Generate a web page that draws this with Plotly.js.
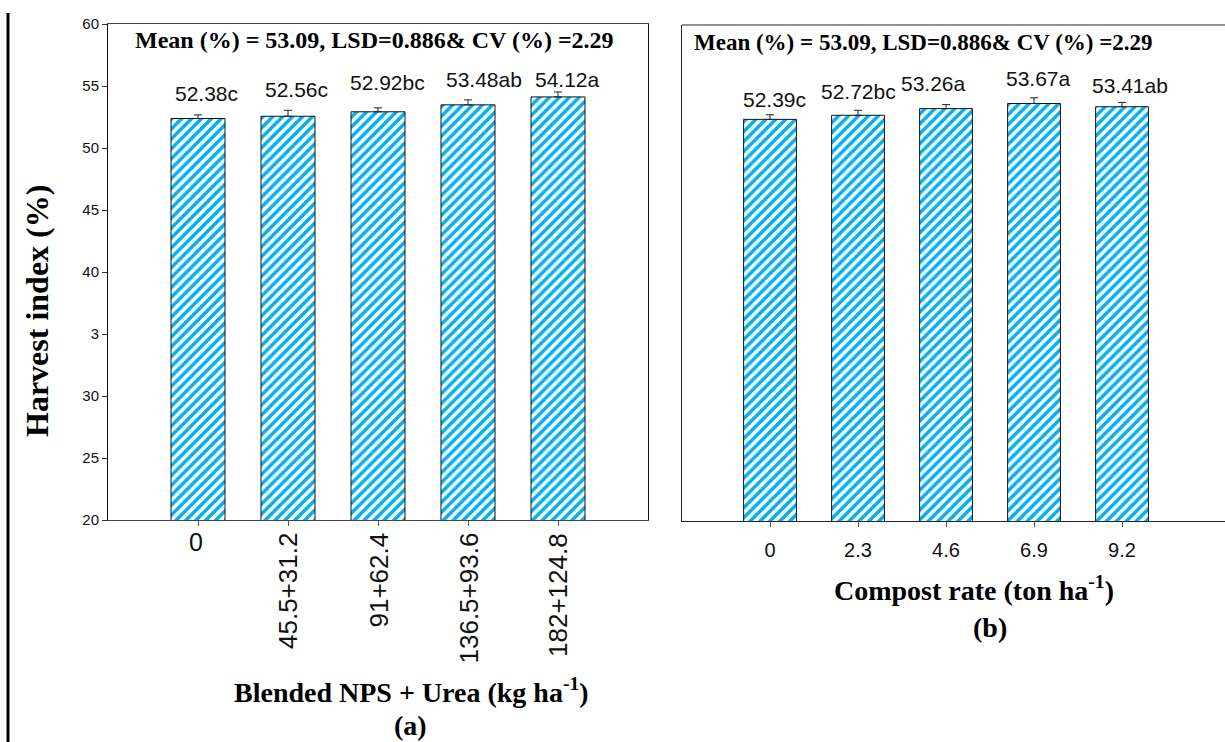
<!DOCTYPE html>
<html><head><meta charset="utf-8">
<script src="https://cdn.plot.ly/plotly-3.0.1.min.js"></script>
<style>html,body{margin:0;padding:0;background:#fff}#chart{width:1225px;height:742px}</style>
</head><body><div id="chart"></div>
<script>
// ---- data ----
const npsLabels = ['0', '45.5+31.2', '91+62.4', '136.5+93.6', '182+124.8'];
const npsHI = [52.38, 52.56, 52.92, 53.48, 54.12];
const npsErr = [0.29, 0.48, 0.32, 0.40, 0.40];
const npsLetters = ['c', 'c', 'bc', 'ab', 'a'];

const compostLabels = ['0', '2.3', '4.6', '6.9', '9.2'];
const compostHI = [52.39, 52.72, 53.26, 53.67, 53.41];
const compostErr = [0.37, 0.40, 0.32, 0.46, 0.35];
const compostLetters = ['c', 'bc', 'a', 'a', 'ab'];

const yTickVals = [20, 25, 30, 35, 40, 45, 50, 55, 60];
const yTickText = ['20', '25', '30', '3', '40', '45', '50', '55', '60'];
const statsText = 'Mean (%) = 53.09, LSD=0.886& CV (%) =2.29';

// ---- layout helpers ----
const W = 1225, H = 742;
const px = x => x / W;
const py = y => 1 - y / H;
const BLUE = '#00b0f0';
const SANS = 'Liberation Sans, Arial, sans-serif';
const SERIF = 'Liberation Serif, Times New Roman, serif';

// label placement (pixels) for the value/letter labels
const npsLabelLift = [24.5, 26.3, 29.3, 25.8, 17.9];
const npsLabelShift = [8, 8, 9, 16, 9];
const compLabelLift = [19.4, 23.3, 24.6, 24.5, 21.7];
const compLabelShift = [4, 0, -13, 4, 8];

function barTrace(x, y, err, xa, ya) {
  return {
    type: 'bar', x: x, y: y, xaxis: xa, yaxis: ya, width: 0.6,
    marker: {
      color: BLUE,
      line: {color: '#111', width: 1},
      pattern: {shape: '/', fgcolor: BLUE, bgcolor: '#ffffff', size: 7, solidity: 0.5, fillmode: 'replace'}
    },
    error_y: {type: 'data', symmetric: false, array: err, arrayminus: err.map(() => 0),
              color: '#222', thickness: 1, width: 4},
    showlegend: false, hoverinfo: 'skip'
  };
}

const data = [
  barTrace(npsLabels, npsHI, npsErr, 'x', 'y'),
  barTrace(compostLabels, compostHI, compostErr, 'x2', 'y2')
];

const annotations = [];
npsLabels.forEach((c, i) => {
  annotations.push({xref: 'x', yref: 'y', x: i, y: npsHI[i], yanchor: 'middle',
    yshift: npsLabelLift[i], xshift: npsLabelShift[i],
    text: npsHI[i].toFixed(2) + npsLetters[i], showarrow: false,
    font: {family: SANS, size: 21, color: '#111'}});
});
compostLabels.forEach((c, i) => {
  annotations.push({xref: 'x2', yref: 'y2', x: i, y: compostHI[i], yanchor: 'middle',
    yshift: compLabelLift[i], xshift: compLabelShift[i],
    text: compostHI[i].toFixed(2) + compostLetters[i], showarrow: false,
    font: {family: SANS, size: 21, color: '#111'}});
});

// left panel category labels (first upright, rest rotated)
npsLabels.forEach((c, i) => {
  if (i === 0) {
    annotations.push({xref: 'x', yref: 'paper', x: i, xshift: -2, y: py(542), yanchor: 'middle',
      text: c, showarrow: false, font: {family: SANS, size: 25, color: '#111'}});
  } else {
    annotations.push({xref: 'x', yref: 'paper', x: i, y: py(531), yanchor: 'top', xanchor: 'center',
      textangle: -90, text: c, showarrow: false, font: {family: SANS, size: 26, color: '#111'}});
  }
});

// statistics headers
annotations.push({xref: 'paper', yref: 'paper', x: px(374.5), y: py(40), xanchor: 'center', yanchor: 'middle',
  text: '<b>' + statsText + '</b>', showarrow: false, font: {family: SERIF, size: 24, color: '#000'}});
annotations.push({xref: 'paper', yref: 'paper', x: px(923.5), y: py(42.5), xanchor: 'center', yanchor: 'middle',
  text: '<b>' + statsText + '</b>', showarrow: false, font: {family: SERIF, size: 23, color: '#000'}});

// axis titles
annotations.push({xref: 'paper', yref: 'paper', x: px(37), y: py(311), textangle: -90,
  xanchor: 'center', yanchor: 'middle', text: '<b>Harvest index (%)</b>', showarrow: false,
  font: {family: SERIF, size: 32, color: '#000'}});
annotations.push({xref: 'paper', yref: 'paper', x: px(411), y: py(690), xanchor: 'center', yanchor: 'middle',
  text: '<b>Blended NPS + Urea (kg ha<sup>-1</sup>)</b>', showarrow: false,
  font: {family: SERIF, size: 28, color: '#000'}});
annotations.push({xref: 'paper', yref: 'paper', x: px(410), y: py(725), xanchor: 'center', yanchor: 'middle',
  text: '<b>(a)</b>', showarrow: false, font: {family: SERIF, size: 28, color: '#000'}});
annotations.push({xref: 'paper', yref: 'paper', x: px(973.5), y: py(588), xanchor: 'center', yanchor: 'middle',
  text: '<b>Compost rate (ton ha<sup>-1</sup>)</b>', showarrow: false,
  font: {family: SERIF, size: 28, color: '#000'}});
annotations.push({xref: 'paper', yref: 'paper', x: px(990), y: py(627), xanchor: 'center', yanchor: 'middle',
  text: '<b>(b)</b>', showarrow: false, font: {family: SERIF, size: 28, color: '#000'}});

const layout = {
  width: W, height: H,
  margin: {l: 0, r: 0, t: 0, b: 0},
  paper_bgcolor: '#fff', plot_bgcolor: '#fff',
  showlegend: false,
  xaxis: {
    domain: [px(108), px(648)], anchor: 'y', type: 'category',
    range: [-1, 5], showgrid: false, zeroline: false,
    showline: true, linecolor: '#444', linewidth: 1, mirror: true,
    ticks: 'outside', ticklen: 5, tickcolor: '#555', showticklabels: false
  },
  yaxis: {
    domain: [py(520), py(24)], anchor: 'x', range: [20, 60],
    showgrid: false, zeroline: false,
    showline: true, linecolor: '#111', linewidth: 1, mirror: true,
    ticks: 'outside', ticklen: 5, tickcolor: '#333',
    tickvals: yTickVals, ticktext: yTickText,
    tickfont: {family: SANS, size: 15, color: '#111'}
  },
  xaxis2: {
    domain: [px(682), 1], anchor: 'y2', type: 'category',
    range: [-1, 5.17], showgrid: false, zeroline: false,
    showline: true, linecolor: '#222', linewidth: 1, mirror: false,
    ticks: 'outside', ticklen: 5, tickcolor: '#555',
    tickfont: {family: SANS, size: 20, color: '#111'}, ticklabelstandoff: 6
  },
  yaxis2: {
    domain: [py(521), py(25)], anchor: 'x2', range: [20, 60],
    showgrid: false, zeroline: false,
    showline: true, linecolor: '#222', linewidth: 1, mirror: false,
    ticks: '', showticklabels: false
  },
  shapes: [
    {type: 'line', xref: 'paper', yref: 'paper', x0: px(8), x1: px(8), y0: py(13), y1: 0,
     line: {color: '#000', width: 3}},
    {type: 'line', xref: 'paper', yref: 'paper', x0: px(682), x1: 1, y0: py(25), y1: py(25),
     line: {color: '#222', width: 1}}
  ],
  annotations: annotations
};

Plotly.newPlot('chart', data, layout, {staticPlot: true, displayModeBar: false});
</script>
</body></html>
